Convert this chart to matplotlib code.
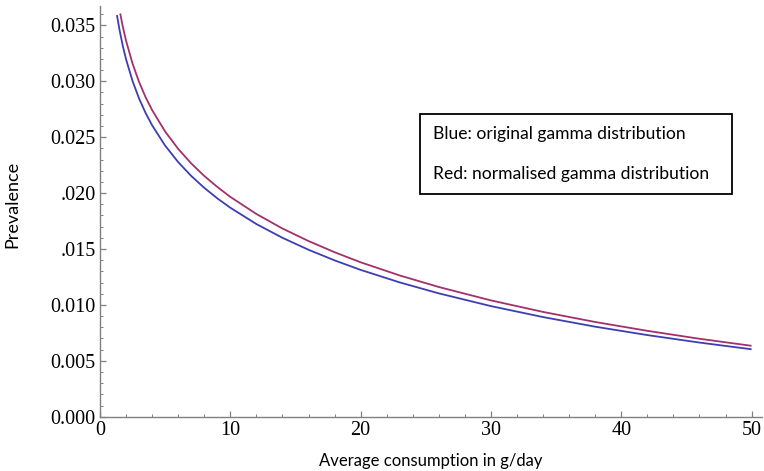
import matplotlib
matplotlib.use("Agg")
import matplotlib.pyplot as plt
from matplotlib.ticker import MultipleLocator, FixedLocator, FixedFormatter

# Values
blue_x = [1.3, 1.5, 1.75, 2, 2.5, 3, 3.5, 4, 5, 6, 7, 8, 9, 10, 12, 14, 16, 18,
          20, 23, 26, 30, 34, 38, 42, 46, 50]
blue_y = [0.03592, 0.03458, 0.03316, 0.03196, 0.03001, 0.02845, 0.02716, 0.02606,
          0.02424, 0.02277, 0.02153, 0.02047, 0.01953, 0.01869, 0.01723, 0.01600,
          0.01493, 0.01398, 0.01313, 0.01201, 0.01103, 0.00989, 0.00891, 0.00805,
          0.00730, 0.00663, 0.00603]

red_x = [1.55, 1.75, 2, 2.5, 3, 3.5, 4, 5, 6, 7, 8, 9, 10, 12, 14, 16, 18,
         20, 23, 26, 30, 34, 38, 42, 46, 50]
red_y = [0.03606, 0.03488, 0.03362, 0.03157, 0.02993, 0.02857, 0.02742, 0.02550,
         0.02395, 0.02265, 0.02153, 0.02055, 0.01966, 0.01813, 0.01683, 0.01571,
         0.01471, 0.01381, 0.01263, 0.01160, 0.01040, 0.00937, 0.00847, 0.00768,
         0.00697, 0.00634]

y_ticks = [0.000, 0.005, 0.010, 0.015, 0.020, 0.025, 0.030, 0.035]
y_tick_labels = ["0.000", "0.005", "0.010", ".015", ".020", "0.025", "0.030", "0.035"]
x_ticks = [0, 10, 20, 30, 40, 50]
x_tick_labels = ["0", "10", "20", "30", "40", "50"]

legend_lines = ["Blue: original gamma distribution", "Red: normalised gamma distribution"]

fig = plt.figure(figsize=(7.64, 4.71), dpi=100)
ax = fig.add_axes([100 / 764, 1 - 416.7 / 471, 662 / 764, 410.7 / 471])

ax.plot(blue_x, blue_y, color="#3d3db4", lw=1.3, solid_capstyle="butt")
ax.plot(red_x, red_y, color="#a3306a", lw=1.3, solid_capstyle="butt")

ax.set_xlim(0, 50.8)
ax.set_ylim(0, 0.03673)

for s in ["top", "right"]:
    ax.spines[s].set_visible(False)
for s in ["left", "bottom"]:
    ax.spines[s].set_color("#808080")
    ax.spines[s].set_linewidth(1.0)

ax.xaxis.set_major_locator(FixedLocator(x_ticks))
ax.xaxis.set_major_formatter(FixedFormatter(x_tick_labels))
ax.xaxis.set_minor_locator(MultipleLocator(2))
ax.yaxis.set_major_locator(FixedLocator(y_ticks))
ax.yaxis.set_major_formatter(FixedFormatter(y_tick_labels))
ax.yaxis.set_minor_locator(MultipleLocator(0.001))

ax.tick_params(which="both", direction="in", color="#808080")
ax.tick_params(which="major", length=4, width=0.9, labelsize=14.5, pad=3)
ax.tick_params(which="minor", length=2, width=0.7)
for lab in ax.get_xticklabels() + ax.get_yticklabels():
    lab.set_fontfamily("Liberation Serif")

ax.set_ylabel("Prevalence", fontfamily="Lato", fontsize=13)
ax.yaxis.set_label_coords(-0.121, 0.518)
ax.set_xlabel("Average consumption in g/day", fontfamily="Lato", fontsize=12)
ax.xaxis.set_label_coords(0.5, -0.089)

# Legend box
box = plt.Rectangle((420 / 764, 1 - 194 / 471), (732 - 420) / 764, (194 - 114) / 471,
                    transform=fig.transFigure, fill=False, edgecolor="black", lw=1.3)
fig.add_artist(box)
fig.text(433 / 764, 1 - 134 / 471, legend_lines[0], fontfamily="Lato", fontsize=12.6,
         va="center", ha="left")
fig.text(433 / 764, 1 - 174 / 471, legend_lines[1], fontfamily="Lato", fontsize=12.6,
         va="center", ha="left")

fig.savefig("out.png", dpi=100)
